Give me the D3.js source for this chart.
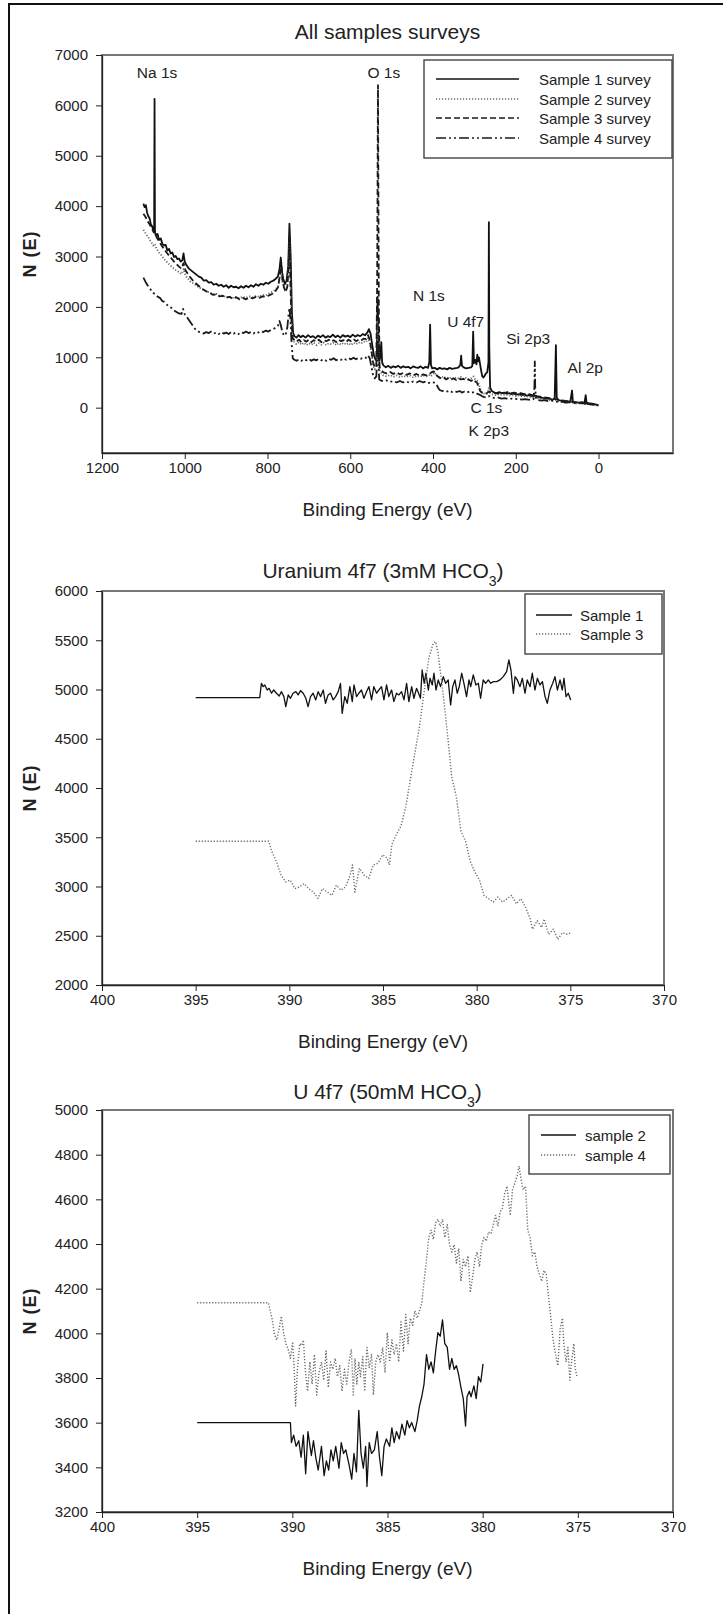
<!DOCTYPE html>
<html>
<head>
<meta charset="utf-8">
<script src="https://cdn.jsdelivr.net/npm/d3@7"></script>
<style>
  body { margin: 0; background: #fff; }
  svg { display: block; }
  text { font-family: "Liberation Sans", Arial, sans-serif; fill: #222; }
</style>
</head>
<body>
<script>
// ---- data (binding energy eV, counts N(E)) ----
var surveyS1 = [[1100,4050],[1097,3980],[1094,4020],[1091,3870],[1088,3800],[1085,3760],[1082,3640],[1079,3600],[1076,3520],[1074,3550],[1073,6130],[1072,3480],[1070,3420],[1066,3450],[1062,3330],[1058,3360],[1054,3250],[1050,3220],[1046,3230],[1042,3120],[1038,3150],[1034,3060],[1030,3080],[1026,2990],[1022,3010],[1018,2950],[1014,2960],[1010,2900],[1006,2920],[1003,3060],[1000,2900],[996,2830],[990,2760],[984,2720],[978,2680],[972,2640],[966,2600],[960,2580],[954,2520],[948,2530],[942,2480],[936,2490],[930,2440],[924,2460],[918,2420],[912,2440],[906,2400],[900,2430],[894,2380],[888,2420],[882,2390],[876,2400],[870,2370],[864,2410],[858,2380],[852,2420],[846,2390],[840,2430],[834,2400],[828,2450],[822,2420],[816,2460],[810,2440],[804,2480],[798,2460],[792,2500],[786,2520],[780,2560],[775,2600],[771,2750],[768,2980],[765,2700],[762,2560],[758,2450],[754,2520],[750,2800],[747,3650],[744,3000],[741,1900],[738,1480],[735,1420],[730,1390],[725,1440],[720,1400],[714,1430],[708,1390],[702,1440],[696,1400],[690,1420],[684,1380],[678,1430],[672,1400],[666,1440],[660,1390],[654,1420],[648,1400],[642,1450],[636,1400],[630,1430],[624,1390],[618,1440],[612,1410],[606,1430],[600,1400],[594,1450],[588,1410],[582,1440],[576,1420],[570,1460],[564,1440],[558,1500],[555,1560],[551,1470],[547,1250],[543,1050],[539,950],[536,1000],[534,2200],[532,1500],[530,900],[527,1050],[525,1300],[523,900],[520,840],[514,800],[508,830],[502,790],[496,820],[490,800],[484,830],[478,790],[472,820],[466,800],[460,810],[454,780],[448,820],[442,800],[436,790],[430,820],[424,780],[418,810],[412,790],[409,900],[407,1650],[405,850],[402,780],[396,790],[390,760],[384,790],[378,770],[372,780],[366,760],[360,790],[354,770],[348,780],[342,790],[338,800],[334,850],[332,1030],[330,830],[326,800],[320,780],[314,790],[308,800],[305,830],[303,1510],[301,880],[298,950],[295,860],[293,1050],[291,920],[289,1000],[287,900],[284,750],[281,620],[278,600],[275,640],[272,680],[269,700],[266,900],[265,3680],[264,1200],[262,400],[258,330],[252,300],[246,290],[240,310],[234,290],[228,300],[222,280],[216,290],[210,270],[204,280],[198,260],[192,270],[186,250],[180,260],[174,240],[168,250],[162,230],[157,220],[153,240],[148,210],[140,200],[132,190],[124,180],[116,170],[110,160],[106,180],[103,1240],[101,200],[97,150],[90,140],[82,130],[74,120],[68,130],[64,340],[62,120],[56,110],[48,100],[40,110],[34,90],[31,250],[29,100],[24,90],[16,80],[10,70],[5,60],[1,50]];

var surveyS2 = [[1100,3530],[1094,3450],[1088,3380],[1082,3300],[1076,3220],[1072,3250],[1068,3150],[1062,3080],[1056,3020],[1050,2950],[1044,2900],[1038,2850],[1032,2800],[1026,2760],[1020,2720],[1014,2690],[1008,2650],[1003,2750],[998,2620],[992,2560],[986,2500],[980,2470],[972,2420],[964,2380],[956,2340],[948,2300],[940,2290],[932,2250],[924,2260],[916,2220],[908,2230],[900,2190],[892,2210],[884,2180],[876,2200],[868,2170],[860,2200],[852,2180],[844,2210],[836,2190],[828,2220],[820,2200],[812,2240],[804,2230],[796,2270],[788,2300],[780,2350],[774,2420],[770,2600],[767,2750],[764,2500],[760,2350],[756,2300],[752,2450],[749,2900],[747,3300],[745,2700],[742,1800],[739,1350],[735,1290],[730,1260],[724,1300],[718,1250],[712,1290],[706,1240],[700,1280],[694,1250],[688,1290],[682,1240],[676,1280],[670,1250],[664,1290],[658,1240],[652,1280],[646,1260],[640,1290],[634,1240],[628,1280],[622,1250],[616,1290],[610,1250],[604,1280],[598,1240],[592,1290],[586,1260],[580,1300],[574,1270],[568,1310],[562,1300],[557,1380],[553,1300],[549,1100],[545,850],[541,760],[537,800],[534,1700],[532,1200],[530,750],[526,700],[520,640],[512,620],[504,650],[496,610],[488,640],[480,600],[472,630],[464,610],[456,640],[448,600],[440,630],[432,610],[424,640],[416,620],[410,650],[406,620],[400,660],[396,700],[392,640],[386,600],[380,620],[374,590],[368,610],[362,580],[356,600],[350,570],[344,600],[338,580],[332,610],[326,570],[320,590],[314,560],[308,580],[302,620],[298,560],[294,540],[290,480],[286,380],[282,300],[276,280],[270,270],[265,400],[262,290],[256,260],[248,250],[240,270],[232,250],[224,260],[216,240],[208,250],[200,230],[192,240],[184,220],[176,230],[168,210],[160,200],[154,230],[150,190],[142,180],[134,170],[126,160],[118,150],[110,140],[104,150],[100,130],[92,120],[84,110],[76,100],[68,110],[60,90],[52,80],[44,90],[36,70],[28,80],[20,60],[12,55],[4,45],[0,40]];

var surveyS3 = [[1100,3850],[1095,3790],[1090,3700],[1085,3640],[1080,3560],[1075,3480],[1072,3500],[1068,3380],[1062,3300],[1056,3220],[1050,3150],[1044,3080],[1038,3020],[1032,2960],[1026,2900],[1020,2850],[1014,2800],[1008,2760],[1003,2870],[998,2720],[992,2650],[986,2580],[980,2520],[972,2460],[964,2400],[956,2350],[948,2310],[940,2280],[932,2240],[924,2250],[916,2210],[908,2220],[900,2180],[892,2200],[884,2160],[876,2190],[868,2150],[860,2180],[852,2150],[844,2190],[836,2170],[828,2200],[820,2180],[812,2210],[804,2200],[796,2230],[788,2260],[780,2320],[774,2400],[770,2650],[767,2900],[764,2550],[760,2380],[756,2300],[752,2400],[749,2800],[747,3400],[745,2600],[742,1700],[739,1380],[735,1340],[730,1310],[724,1350],[718,1300],[712,1340],[706,1310],[700,1350],[694,1300],[688,1340],[682,1310],[676,1350],[670,1300],[664,1340],[658,1320],[652,1350],[646,1310],[640,1340],[634,1300],[628,1350],[622,1320],[616,1340],[610,1300],[604,1350],[598,1320],[592,1360],[586,1320],[580,1350],[574,1330],[568,1370],[562,1360],[557,1440],[553,1350],[549,1150],[545,900],[541,800],[537,850],[535,2500],[533,6400],[531,2000],[529,800],[526,760],[520,700],[512,680],[504,710],[496,670],[488,700],[480,660],[472,690],[464,650],[456,680],[448,640],[440,670],[432,630],[424,660],[416,640],[410,660],[404,700],[398,720],[392,650],[386,600],[380,580],[374,600],[368,560],[362,590],[356,560],[350,580],[344,550],[338,580],[332,560],[326,570],[320,540],[314,560],[308,530],[302,560],[298,520],[294,500],[290,420],[286,330],[282,300],[276,280],[270,290],[264,320],[258,290],[252,300],[244,280],[236,300],[228,290],[220,310],[212,290],[204,300],[196,280],[188,290],[180,270],[172,280],[164,260],[158,250],[154,280],[150,230],[142,220],[134,210],[126,200],[118,190],[110,180],[104,170],[100,160],[92,150],[84,140],[76,130],[68,120],[60,110],[52,100],[44,95],[36,85],[28,80],[20,70],[12,60],[4,50],[0,45]];

var surveyS4 = [[1100,2580],[1095,2500],[1090,2430],[1085,2380],[1080,2310],[1075,2270],[1070,2240],[1065,2200],[1060,2180],[1055,2120],[1050,2100],[1044,2050],[1038,2000],[1032,1980],[1026,1930],[1020,1900],[1014,1870],[1008,1860],[1004,1960],[1000,1850],[995,1800],[990,1740],[985,1680],[980,1620],[975,1560],[970,1530],[965,1500],[960,1490],[954,1470],[948,1500],[942,1480],[936,1510],[930,1470],[924,1490],[918,1460],[912,1500],[906,1470],[900,1490],[894,1460],[888,1500],[882,1470],[876,1490],[870,1460],[864,1500],[858,1480],[852,1510],[846,1480],[840,1500],[834,1470],[828,1510],[822,1490],[816,1520],[810,1500],[804,1530],[798,1510],[792,1540],[786,1560],[780,1590],[775,1620],[771,1720],[768,1640],[764,1500],[760,1430],[756,1450],[752,1600],[749,1850],[747,1980],[745,1800],[742,1300],[739,980],[735,950],[730,930],[724,960],[718,930],[712,960],[706,940],[700,970],[694,930],[688,960],[682,940],[676,970],[670,940],[664,960],[658,930],[652,970],[646,950],[640,980],[634,940],[628,970],[622,950],[616,980],[610,950],[604,980],[598,960],[592,990],[586,960],[580,990],[574,970],[568,1000],[562,990],[557,1040],[553,980],[549,820],[545,650],[541,580],[537,620],[534,1300],[532,900],[530,560],[526,540],[520,520],[512,540],[504,510],[496,530],[488,500],[480,530],[472,500],[464,520],[456,490],[448,520],[440,500],[432,530],[424,500],[416,520],[410,490],[404,510],[398,500],[392,470],[388,400],[384,350],[378,330],[372,340],[366,320],[360,340],[354,310],[348,330],[342,310],[336,330],[330,300],[324,320],[318,300],[312,320],[306,300],[300,310],[294,280],[288,260],[282,230],[276,210],[270,200],[264,230],[258,200],[250,190],[242,200],[234,180],[226,190],[218,170],[210,180],[202,170],[194,180],[186,160],[178,170],[170,160],[162,150],[157,170],[155,400],[154,920],[153,400],[151,170],[146,150],[138,140],[130,150],[122,130],[114,140],[106,130],[102,120],[96,110],[88,120],[80,100],[72,110],[64,100],[56,90],[48,95],[40,80],[32,90],[24,70],[16,65],[8,55],[0,45]];

var u3mS1 = [[395,4918],[391.58,4918],[391.49,5063],[391.40,5029],[391.31,5046],[391.18,4995],[391.08,5012],[390.95,4962],[390.83,4995],[390.69,4962],[390.54,4934],[390.42,4978],[390.29,4928],[390.19,4826],[390.06,4945],[389.94,4911],[389.80,4962],[389.65,4978],[389.53,4945],[389.40,4988],[389.26,4962],[389.12,4911],[389.00,4826],[388.87,4928],[388.73,4962],[388.59,4894],[388.46,4978],[388.33,4928],[388.19,4995],[388.07,4860],[387.93,4945],[387.80,4962],[387.66,4894],[387.53,4928],[387.39,4978],[387.27,5063],[387.18,4758],[387.04,4928],[386.91,4860],[386.77,5029],[386.64,4877],[386.55,5046],[386.41,4928],[386.29,4962],[386.15,4995],[386.02,4911],[385.88,4978],[385.75,5029],[385.61,4894],[385.49,5029],[385.34,4962],[385.22,4995],[385.08,5029],[384.95,4894],[384.81,5046],[384.69,4928],[384.54,4995],[384.42,4877],[384.28,4962],[384.15,4945],[384.01,4978],[383.88,4894],[383.74,5063],[383.62,4877],[383.47,5029],[383.35,4911],[383.21,5012],[383.10,4962],[383.00,4911],[382.91,5198],[382.80,5063],[382.71,5165],[382.58,4995],[382.49,5114],[382.37,5046],[382.28,5165],[382.17,4995],[382.05,5097],[381.93,5029],[381.78,5131],[381.66,5063],[381.52,5097],[381.39,4843],[381.28,5029],[381.16,5097],[381.04,4962],[380.93,5029],[380.80,5165],[380.68,5063],[380.54,4928],[380.41,5097],[380.32,5029],[380.18,5148],[380.04,5046],[379.91,5063],[379.79,4911],[379.65,5097],[379.52,5063],[379.38,5097],[379.25,5063],[379.11,5080],[378.93,5080],[378.76,5097],[378.58,5131],[378.40,5182],[378.28,5300],[378.17,5198],[378.04,4962],[377.95,5131],[377.83,5097],[377.69,5029],[377.56,5114],[377.42,4962],[377.30,5097],[377.15,5029],[377.03,5165],[376.89,4995],[376.76,5114],[376.62,5046],[376.49,5080],[376.35,4928],[376.23,4860],[376.09,4995],[375.94,5063],[375.82,5131],[375.69,4995],[375.55,5097],[375.43,4995],[375.34,5114],[375.23,4928],[375.11,4962],[374.98,4894]];

var u3mS3 = [[395,3459],[391.1,3459],[390.94,3357],[390.69,3254],[390.44,3116],[390.2,3047],[389.95,3065],[389.7,2979],[389.46,2996],[389.21,3030],[388.97,2979],[388.72,2944],[388.47,2880],[388.23,2979],[387.98,2944],[387.73,2910],[387.49,3013],[387.24,2962],[387.0,2996],[386.75,3116],[386.63,3219],[386.5,2944],[386.26,3185],[386.01,3116],[385.76,3082],[385.52,3219],[385.27,3236],[385.02,3322],[384.78,3288],[384.66,3219],[384.53,3425],[384.29,3528],[384.04,3614],[383.79,3803],[383.55,4077],[383.3,4352],[383.05,4627],[382.81,4970],[382.56,5313],[382.32,5468],[382.19,5485],[382.07,5382],[381.82,5004],[381.58,4592],[381.33,4112],[381.08,3906],[380.84,3562],[380.59,3459],[380.34,3254],[380.1,3150],[379.85,3065],[379.61,2910],[379.36,2876],[379.11,2842],[378.87,2893],[378.62,2842],[378.37,2876],[378.13,2910],[377.88,2824],[377.64,2876],[377.39,2790],[377.14,2670],[377.02,2567],[376.77,2653],[376.53,2584],[376.4,2670],[376.16,2515],[375.91,2567],[375.67,2464],[375.42,2532],[375.17,2515],[374.93,2532]];

var u50mS2 = [[395,3600],[390.1,3600],[390.05,3511],[389.93,3544],[389.8,3494],[389.66,3519],[389.54,3445],[389.42,3544],[389.3,3371],[389.18,3560],[389.0,3453],[388.89,3519],[388.77,3445],[388.64,3388],[388.47,3494],[388.33,3363],[388.21,3429],[388.09,3388],[387.97,3478],[387.85,3429],[387.72,3494],[387.55,3396],[387.43,3511],[387.31,3462],[387.19,3478],[387.02,3412],[386.88,3347],[386.76,3462],[386.63,3380],[386.51,3655],[386.39,3462],[386.27,3396],[386.15,3494],[386.08,3314],[385.96,3511],[385.84,3462],[385.69,3478],[385.54,3560],[385.42,3445],[385.3,3363],[385.18,3494],[385.06,3527],[384.89,3494],[384.77,3577],[384.65,3511],[384.53,3560],[384.38,3527],[384.24,3593],[384.09,3544],[383.97,3609],[383.85,3577],[383.73,3601],[383.56,3560],[383.44,3609],[383.32,3675],[383.2,3716],[383.08,3773],[382.95,3905],[382.83,3839],[382.71,3872],[382.59,3823],[382.47,3921],[382.35,4003],[382.23,3987],[382.11,4060],[381.99,3954],[381.86,3937],[381.74,3839],[381.62,3888],[381.5,3839],[381.38,3855],[381.26,3814],[381.14,3757],[381.02,3708],[380.9,3585],[380.82,3716],[380.7,3741],[380.61,3716],[380.46,3765],[380.34,3708],[380.22,3806],[380.1,3782],[379.98,3863]];

var u50mS4 = [[395,4137],[391.26,4137],[391.07,4068],[390.94,3995],[390.82,3970],[390.7,4019],[390.58,4077],[390.46,4003],[390.34,3954],[390.22,3929],[390.1,3888],[389.98,3962],[389.9,3839],[389.83,3675],[389.73,3839],[389.61,3954],[389.49,3946],[389.42,3970],[389.32,3839],[389.2,3741],[389.08,3872],[388.96,3773],[388.84,3905],[388.72,3724],[388.6,3823],[388.47,3872],[388.35,3790],[388.23,3921],[388.11,3757],[387.99,3872],[387.87,3839],[387.75,3888],[387.63,3806],[387.51,3855],[387.39,3741],[387.26,3839],[387.14,3773],[387.02,3872],[386.9,3929],[386.8,3724],[386.71,3888],[386.61,3773],[386.51,3872],[386.42,3806],[386.3,3896],[386.2,3741],[386.08,3937],[385.96,3847],[385.84,3905],[385.74,3724],[385.62,3872],[385.5,3905],[385.38,3872],[385.25,3937],[385.13,3823],[385.01,4003],[384.89,3872],[384.77,3970],[384.65,3905],[384.53,3954],[384.41,3872],[384.29,4052],[384.16,3921],[384.04,4085],[383.92,3954],[383.8,4068],[383.68,4036],[383.56,4101],[383.44,4068],[383.32,4101],[383.2,4134],[383.08,4233],[382.95,4331],[382.83,4429],[382.71,4462],[382.59,4421],[382.47,4495],[382.35,4511],[382.23,4479],[382.11,4511],[381.99,4429],[381.86,4487],[381.74,4397],[381.62,4364],[381.5,4397],[381.38,4315],[381.26,4380],[381.14,4233],[381.02,4331],[380.9,4298],[380.77,4347],[380.65,4183],[380.53,4249],[380.41,4331],[380.29,4364],[380.17,4298],[380.05,4397],[379.93,4429],[379.81,4413],[379.69,4454],[379.56,4446],[379.44,4487],[379.32,4528],[379.2,4479],[379.08,4544],[378.96,4561],[378.84,4626],[378.72,4659],[378.64,4593],[378.55,4528],[378.43,4643],[378.3,4675],[378.18,4708],[378.09,4749],[377.99,4692],[377.87,4643],[377.75,4659],[377.63,4462],[377.51,4429],[377.39,4347],[377.26,4364],[377.14,4298],[377.02,4265],[376.9,4233],[376.78,4282],[376.66,4265],[376.54,4167],[376.42,4068],[376.3,3970],[376.17,3905],[376.05,3855],[375.93,4019],[375.81,4068],[375.74,3954],[375.62,3872],[375.52,3937],[375.42,3790],[375.33,3872],[375.21,3954],[375.13,3839],[375.04,3806]];

// peak annotations on the survey: label, energy, counts (label centre)
var peakLabels = ["Na 1s", "O 1s", "N 1s", "U 4f7", "Si 2p3", "Al 2p", "C 1s", "K 2p3"];
var peakE = [1067, 519, 410, 321, 170, 32, 271, 265];
var peakN = [6650, 6650, 2220, 1710, 1370, 800, 0, -450];

// ticks
var surveyXTicks = [1200, 1000, 800, 600, 400, 200, 0];
var surveyYTicks = [0, 1000, 2000, 3000, 4000, 5000, 6000, 7000];
var uXTicks = [400, 395, 390, 385, 380, 375, 370];
var u3mYTicks = [2000, 2500, 3000, 3500, 4000, 4500, 5000, 5500, 6000];
var u50mYTicks = [3200, 3400, 3600, 3800, 4000, 4200, 4400, 4600, 4800, 5000];

var W = 723, H = 1614;
var svg = d3.select("body").append("svg").attr("width", W).attr("height", H);

// outer frame (left + top only)
svg.append("path").attr("d", "M9,1614V4H723").attr("fill", "none").attr("stroke", "#111").attr("stroke-width", 2);

var styles = {
    solid: { stroke: "#111", dash: null },
    dot: { stroke: "#6a6a6a", dash: "1.2,1.8" },
    dash: { stroke: "#1a1a1a", dash: "6,3" },
    dashdot: { stroke: "#1a1a1a", dash: "10,3,2,3,2,3" }
};

function drawPanel(p) {
    var x = d3.scaleLinear().domain(p.xDomain).range([p.left, p.right]);
    var y = d3.scaleLinear().domain(p.yDomain).range([p.bottom, p.top]);

    svg.append("rect")
        .attr("x", p.left).attr("y", p.top)
        .attr("width", p.right - p.left).attr("height", p.bottom - p.top)
        .attr("fill", "none").attr("stroke", "#777").attr("stroke-width", 2);

    var line = d3.line().x(function (d) { return x(d[0]); }).y(function (d) { return y(d[1]); });

    p.series.forEach(function (s) {
        var st = styles[s.style];
        svg.append("path")
            .datum(s.data)
            .attr("d", line)
            .attr("fill", "none")
            .attr("stroke", st.stroke)
            .attr("stroke-width", s.width || 1.2)
            .attr("stroke-linejoin", "round")
            .attr("stroke-dasharray", st.dash);
    });

    var xa = svg.append("g")
        .attr("transform", "translate(0," + p.bottom + ")")
        .call(d3.axisBottom(x).tickValues(p.xTicks).tickSize(6).tickSizeOuter(0).tickFormat(d3.format("d")));
    var ya = svg.append("g")
        .attr("transform", "translate(" + p.left + ",0)")
        .call(d3.axisLeft(y).tickValues(p.yTicks).tickSize(6).tickPadding(8).tickSizeOuter(0).tickFormat(d3.format("d")));
    [xa, ya].forEach(function (a) {
        a.attr("font-family", null).attr("font-size", null);
        a.select(".domain").attr("stroke", "#222").attr("stroke-width", 1.3);
        a.selectAll(".tick line").attr("stroke", "#222");
        a.selectAll(".tick text").style("font-size", "15px").attr("fill", "#222");
    });

    // title
    var t = svg.append("text")
        .attr("x", (p.left + p.right) / 2).attr("y", p.titleY)
        .attr("text-anchor", "middle").style("font-size", "21px")
        .text(p.title);
    if (p.titleSub) {
        t.append("tspan").attr("baseline-shift", "sub").style("font-size", "14px").text(p.titleSub);
        t.append("tspan").text(")");
    }

    svg.append("text")
        .attr("x", (p.left + p.right) / 2).attr("y", p.bottom + 63)
        .attr("text-anchor", "middle").style("font-size", "19px")
        .text("Binding Energy (eV)");

    svg.append("text")
        .attr("transform", "translate(30," + (p.top + p.bottom) / 2 + ") rotate(-90)")
        .attr("text-anchor", "middle").attr("dominant-baseline", "central")
        .style("font-size", "18px").style("font-weight", "bold").style("letter-spacing", "1px")
        .text("N (E)");

    // legend
    var L = p.legend;
    svg.append("rect")
        .attr("x", L.x0).attr("y", L.y0).attr("width", L.x1 - L.x0).attr("height", L.y1 - L.y0)
        .attr("fill", "#fff").attr("stroke", "#444").attr("stroke-width", 1.4);
    p.series.forEach(function (s, i) {
        var st = styles[s.style];
        svg.append("line")
            .attr("x1", L.lx0).attr("x2", L.lx1).attr("y1", L.rows[i]).attr("y2", L.rows[i])
            .attr("stroke", st.stroke).attr("stroke-width", 1.3).attr("stroke-dasharray", st.dash);
        svg.append("text")
            .attr("x", L.tx).attr("y", L.rows[i]).attr("dominant-baseline", "central")
            .style("font-size", "15px").text(s.name);
    });

    return { x: x, y: y };
}

var survey = drawPanel({
    left: 102, right: 673, top: 55, bottom: 453,
    xDomain: [1200, -180], yDomain: [-900, 7000],
    xTicks: surveyXTicks, yTicks: surveyYTicks,
    title: "All samples surveys", titleY: 39,
    series: [
        { name: "Sample 1 survey", data: surveyS1, style: "solid", width: 1.8 },
        { name: "Sample 2 survey", data: surveyS2, style: "dot", width: 1.8 },
        { name: "Sample 3 survey", data: surveyS3, style: "dash", width: 1.8 },
        { name: "Sample 4 survey", data: surveyS4, style: "dashdot", width: 1.8 }
    ],
    legend: { x0: 424, y0: 60, x1: 672, y1: 158, lx0: 436, lx1: 519, tx: 539, rows: [79, 99, 118, 138] }
});

peakLabels.forEach(function (lab, i) {
    svg.append("text")
        .attr("x", survey.x(peakE[i])).attr("y", survey.y(peakN[i]))
        .attr("text-anchor", "middle").attr("dominant-baseline", "central")
        .style("font-size", "15.5px").text(lab);
});

drawPanel({
    left: 102, right: 664, top: 591, bottom: 985,
    xDomain: [400, 370], yDomain: [2000, 6000],
    xTicks: uXTicks, yTicks: u3mYTicks,
    title: "Uranium 4f7 (3mM HCO", titleSub: "3", titleY: 578,
    series: [
        { name: "Sample 1", data: u3mS1, style: "solid", width: 1.3 },
        { name: "Sample 3", data: u3mS3, style: "dot", width: 1.4 }
    ],
    legend: { x0: 525, y0: 594, x1: 662, y1: 654, lx0: 536, lx1: 572, tx: 580, rows: [615, 634] }
});

drawPanel({
    left: 102, right: 673, top: 1110, bottom: 1512,
    xDomain: [400, 370], yDomain: [3200, 5000],
    xTicks: uXTicks, yTicks: u50mYTicks,
    title: "U 4f7 (50mM HCO", titleSub: "3", titleY: 1099,
    series: [
        { name: "sample 2", data: u50mS2, style: "solid", width: 1.3 },
        { name: "sample 4", data: u50mS4, style: "dot", width: 1.4 }
    ],
    legend: { x0: 529, y0: 1115, x1: 670, y1: 1174, lx0: 541, lx1: 576, tx: 585, rows: [1135, 1155] }
});
</script>
</body>
</html>
